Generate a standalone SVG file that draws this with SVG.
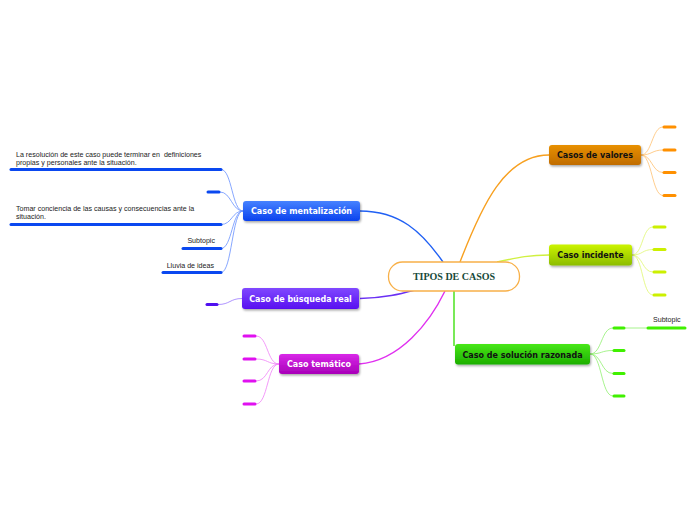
<svg xmlns="http://www.w3.org/2000/svg" width="696" height="520" viewBox="0 0 696 520">
<defs>
<linearGradient id="gBlue" x1="0" y1="0" x2="0" y2="1"><stop offset="0" stop-color="#4682ff"/><stop offset="1" stop-color="#0a42ee"/></linearGradient>
<linearGradient id="gPurple" x1="0" y1="0" x2="0" y2="1"><stop offset="0" stop-color="#8048ff"/><stop offset="1" stop-color="#5810f0"/></linearGradient>
<linearGradient id="gMag" x1="0" y1="0" x2="0" y2="1"><stop offset="0" stop-color="#d828e8"/><stop offset="1" stop-color="#a800b8"/></linearGradient>
<linearGradient id="gOrange" x1="0" y1="0" x2="0" y2="1"><stop offset="0" stop-color="#e89000"/><stop offset="1" stop-color="#c06c00"/></linearGradient>
<linearGradient id="gYel" x1="0" y1="0" x2="0" y2="1"><stop offset="0" stop-color="#ccf400"/><stop offset="1" stop-color="#8cbc00"/></linearGradient>
<linearGradient id="gGreen" x1="0" y1="0" x2="0" y2="1"><stop offset="0" stop-color="#48e818"/><stop offset="1" stop-color="#1cae00"/></linearGradient>
<filter id="sh" x="-10%" y="-20%" width="120%" height="160%"><feDropShadow dx="1" dy="1.5" stdDeviation="1" flood-color="#000" flood-opacity="0.35"/></filter>
</defs>
<style>
.nt{font-family:"DejaVu Sans",Verdana,sans-serif;font-weight:bold;font-size:8px;text-anchor:middle}
.w{fill:#fff}.k{fill:#111}
.lt{font-family:"Liberation Sans",Arial,sans-serif;font-size:7.1px;fill:#222;white-space:pre}
.c{fill:none;stroke-width:1.4}
.l{fill:none;stroke-width:0.8}
.b{fill:none;stroke-width:3;stroke-linecap:round}
</style>
<g id="connectors">
<path class="c" stroke="#2060f4" d="M360,211 C400,211 422,232 443,262"/>
<path class="c" stroke="#6a30f4" d="M360,298.5 C385,298 400,294 415,290"/>
<path class="c" stroke="#e030f0" d="M359,364 C400,361 430,322 445,291"/>
<path class="c" stroke="#f7a020" d="M460,262 C482,205 505,155 549,155"/>
<path class="c" stroke="#d0f040" d="M497,262 C520,257 530,255 549,255"/>
<path class="c" stroke="#40e010" d="M454,291 L454,346"/>
<g stroke="#6890ff" class="l">
<path d="M243,211 C232,211 232,169.5 221,169.5"/>
<path d="M243,211 C232,211 231,192 220,192"/>
<path d="M243,211 C232,211 232,224.5 221,224.5"/>
<path d="M243,211 C232,211 232,248.5 221,248.5"/>
<path d="M243,211 C232,211 232,272.5 221,272.5"/>
</g>
<path class="l" stroke="#9a78ff" d="M242,298.5 C230,298.5 230,304.5 218,304.5"/>
<g stroke="#f080f8" class="l">
<path d="M279,364 C267,364 268,336 256,336"/>
<path d="M279,364 C267,364 268,359 256,359"/>
<path d="M279,364 C267,364 268,381 256,381"/>
<path d="M279,364 C267,364 268,404 256,404"/>
</g>
<g stroke="#ffc070" class="l">
<path d="M641,155 C652,155 652,127 663,127"/>
<path d="M641,155 C652,155 652,150 663,150"/>
<path d="M641,155 C652,155 652,172.5 663,172.5"/>
<path d="M641,155 C652,155 652,195.5 663,195.5"/>
</g>
<g stroke="#e0f870" class="l">
<path d="M632,255 C643,255 642,227 653,227"/>
<path d="M632,255 C643,255 642,249.5 653,249.5"/>
<path d="M632,255 C643,255 642,272 653,272"/>
<path d="M632,255 C643,255 642,295 653,295"/>
</g>
<g stroke="#90f070" class="l">
<path d="M590,354 C602,354 601,328 613,328"/>
<path d="M590,354 C602,354 601,350.5 613,350.5"/>
<path d="M590,354 C602,354 601,373.5 613,373.5"/>
<path d="M590,354 C602,354 601,396 613,396"/>
<path d="M625,328 L647,328"/>
</g>
</g>
<g id="central">
<rect x="388.5" y="262" width="131" height="29" rx="14" fill="#fff" stroke="#f8b048" stroke-width="1.3"/>
<text x="454" y="279.5" font-family="'Liberation Serif','Times New Roman',serif" font-weight="bold" font-size="10" fill="#174a3a" text-anchor="middle">TIPOS DE CASOS</text>
</g>
<g id="n-mentalizacion">
<rect x="243" y="201" width="117" height="20" rx="3" fill="url(#gBlue)" filter="url(#sh)"/>
<text class="nt w" x="301.5" y="214">Caso de mentalización</text>
</g>
<g id="n-mentalizacion-leaves">
<text class="lt" x="16" y="157" xml:space="preserve">La resolución de este caso puede terminar en  definiciones</text>
<text class="lt" x="16" y="164.5">propias y personales ante la situación.</text>
<line class="b" stroke="#0a48f0" x1="11" y1="169.5" x2="221" y2="169.5"/>
<line class="b" stroke="#0a48f0" x1="208" y1="192" x2="219" y2="192"/>
<text class="lt" x="16" y="211">Tomar conciencia de las causas y consecuencias ante la</text>
<text class="lt" x="16" y="218.5">situación.</text>
<line class="b" stroke="#0a48f0" x1="11" y1="224.5" x2="221" y2="224.5"/>
<text class="lt" x="215" y="242.5" text-anchor="end">Subtopic</text>
<line class="b" stroke="#0a48f0" x1="183" y1="248.5" x2="221" y2="248.5"/>
<text class="lt" x="214" y="268" text-anchor="end">Lluvia de ideas</text>
<line class="b" stroke="#0a48f0" x1="163" y1="272.5" x2="221" y2="272.5"/>
</g>
<g id="n-busqueda">
<rect x="242" y="288" width="117" height="21" rx="3" fill="url(#gPurple)" filter="url(#sh)"/>
<text class="nt w" x="300.5" y="301.5">Caso de búsqueda real</text>
<line class="b" stroke="#5010f0" x1="207" y1="304.5" x2="217" y2="304.5"/>
</g>
<g id="n-tematico">
<rect x="279" y="354" width="80" height="20" rx="3" fill="url(#gMag)" filter="url(#sh)"/>
<text class="nt w" x="319" y="367">Caso temático</text>
<g stroke="#e010f0" class="b">
<line x1="244" y1="336" x2="255" y2="336"/>
<line x1="244" y1="359" x2="255" y2="359"/>
<line x1="244" y1="381" x2="255" y2="381"/>
<line x1="244" y1="404" x2="255" y2="404"/>
</g>
</g>
<g id="n-valores">
<rect x="549" y="145" width="92" height="20" rx="3" fill="url(#gOrange)" filter="url(#sh)"/>
<text class="nt k" x="595" y="158">Casos de valores</text>
<g stroke="#ff9000" class="b">
<line x1="664" y1="127" x2="675" y2="127"/>
<line x1="664" y1="150" x2="675" y2="150"/>
<line x1="664" y1="172.5" x2="675" y2="172.5"/>
<line x1="664" y1="195.5" x2="675" y2="195.5"/>
</g>
</g>
<g id="n-incidente">
<rect x="549" y="244.5" width="83" height="21" rx="3" fill="url(#gYel)" filter="url(#sh)"/>
<text class="nt k" x="590.5" y="258">Caso incidente</text>
<g stroke="#ccf000" class="b">
<line x1="654" y1="227" x2="665" y2="227"/>
<line x1="654" y1="249.5" x2="665" y2="249.5"/>
<line x1="654" y1="272" x2="665" y2="272"/>
<line x1="654" y1="295" x2="665" y2="295"/>
</g>
</g>
<g id="n-solucion">
<rect x="455" y="344" width="135" height="20.5" rx="3" fill="url(#gGreen)" filter="url(#sh)"/>
<text class="nt k" x="522.5" y="357.5">Caso de solución razonada</text>
<g stroke="#40f000" class="b">
<line x1="614" y1="328" x2="624" y2="328"/>
<line x1="614" y1="350.5" x2="624" y2="350.5"/>
<line x1="614" y1="373.5" x2="624" y2="373.5"/>
<line x1="614" y1="396" x2="624" y2="396"/>
<line x1="648" y1="328" x2="685" y2="328"/>
</g>
<text class="lt" x="653" y="322" fill="#333">Subtopic</text>
</g>
</svg>
